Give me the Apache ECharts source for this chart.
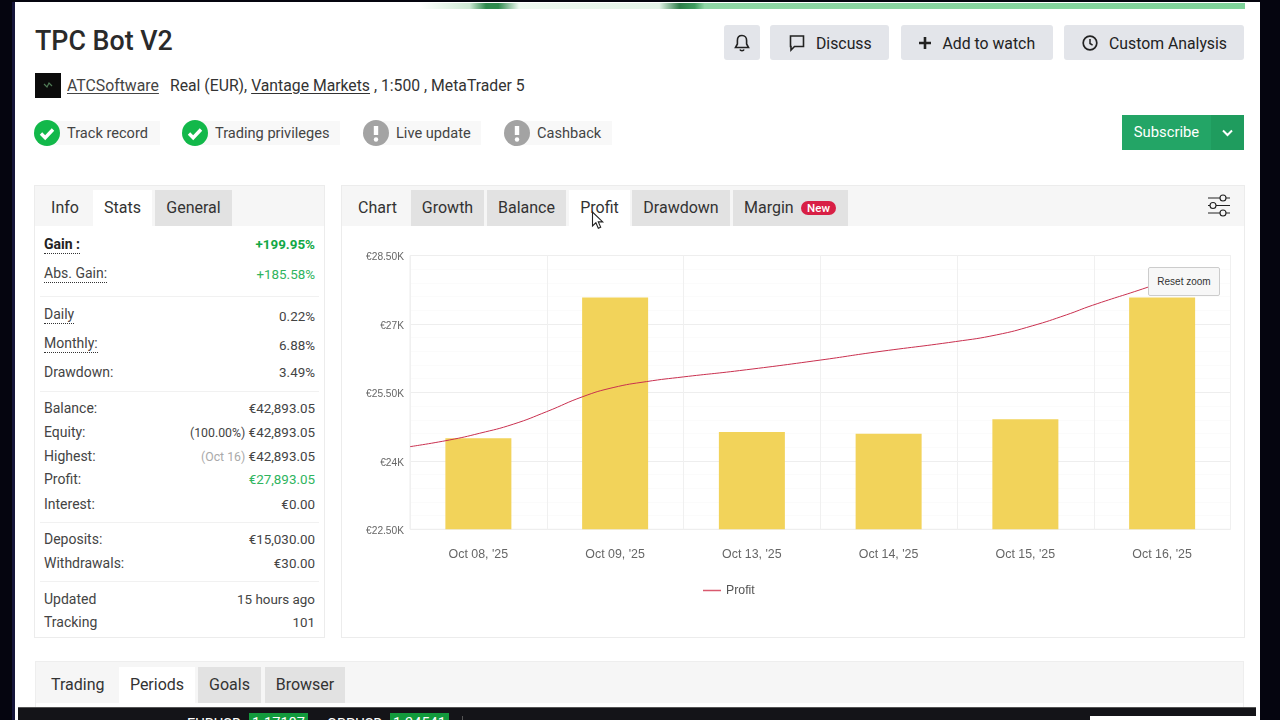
<!DOCTYPE html>
<html>
<head>
<meta charset="utf-8">
<title>TPC Bot V2</title>
<script src="https://cdn.jsdelivr.net/npm/echarts@6/dist/echarts.min.js"></script>
<style>
html, body { margin: 0; padding: 0; }
body { width: 1280px; height: 720px; overflow: hidden; position: relative; background: #05050f; font-family: Roboto, sans-serif; color: #333; }
.abs { position: absolute; white-space: nowrap; }
#page { position: absolute; left: 15px; top: 2px; width: 1245px; height: 718px; background: #fff; }
.btn { position: absolute; top: 25px; height: 35px; line-height: 37px; background: #e3e5ea; border-radius: 3px; font-size: 15.8px; color: #222; }
.chip { position: absolute; top: 121px; height: 24px; line-height: 25px; background: #f8f8f8; font-size: 14.6px; color: #444; }
.dot { position: absolute; top: 120px; width: 26px; height: 26px; border-radius: 50%; color: #fff; text-align: center; }
.panel { position: absolute; background: #fff; border: 1px solid #ececec; box-sizing: border-box; }
.strip { position: absolute; background: #f6f6f6; }
.tab { position: absolute; height: 36px; line-height: 36px; font-size: 16px; text-align: center; color: #333; }
.grey { background: #e2e2e2; }
.white { background: #fff; }
.lbl, .val { position: absolute; line-height: 18px; color: #444; white-space: nowrap; }
.lbl { left: 44px; font-size: 14px; }
.val { right: 965px; font-size: 13.4px; }
.dotted { border-bottom: 1px dotted #333; }
.sep { position: absolute; left: 40px; width: 279px; height: 1px; background: #f1f1f1; }
u { text-underline-offset: 2px; }
#chart { position: absolute; left: 342px; top: 228px; width: 902px; height: 409px; }
#resetzoom { position: absolute; left: 1148px; top: 267px; width: 72px; height: 29px; box-sizing: border-box; text-align: center; background: #f7f7f7; border: 1px solid #ccc; border-radius: 2px; font: 10px/28px "Liberation Sans", sans-serif; color: #333; }
</style>
</head>
<body>
<div id="page"></div>
<div class="abs" style="left:12px;top:2px;width:3px;height:718px;background:#15153a"></div>
<div class="abs" style="left:420px;top:3px;width:825px;height:6px;background:linear-gradient(90deg,#fff 0%,#cfe9d5 6%,#2f8a4e 8%,#2f8a4e 9.5%,#eef8f0 12%,#e4f3e8 29%,#2e7d4a 31.5%,#3f9c5f 33.3%,#8fd6a5 34.5%,#7fd39a 100%)"></div>

<div class="abs" style="left:35px;top:25px;font-size:26.8px;line-height:32px;font-weight:500;color:#2a2a2a">TPC Bot V2</div>
<div class="abs" style="left:35px;top:73px;width:26px;height:25px;background:#0b0b0b"><svg width="26" height="25"><path d="M9 11l3 3 2-4 3 3" fill="none" stroke="#4f7a55" stroke-width="1.2"/></svg></div>
<div class="abs" style="left:67px;top:76px;font-size:15.8px;line-height:19px;color:#444"><u>ATCSoftware</u></div>
<div class="abs" style="left:170px;top:76px;font-size:15.75px;line-height:19px;color:#333">Real (EUR), <u>Vantage Markets</u> , 1:500 , MetaTrader 5</div>

<div class="chip" style="left:48px;width:112px"><span style="position:absolute;left:19px">Track record</span></div>
<div class="chip" style="left:195px;width:145px"><span style="position:absolute;left:20px">Trading privileges</span></div>
<div class="chip" style="left:376px;width:105px"><span style="position:absolute;left:20px">Live update</span></div>
<div class="chip" style="left:517px;width:95px"><span style="position:absolute;left:20px">Cashback</span></div>
<div class="dot" style="left:34px;background:#12b84a"><svg width="26" height="26"><path d="M7 13.5l4.2 4.2L19 9.5" fill="none" stroke="#fff" stroke-width="3.4"/></svg></div>
<div class="dot" style="left:182px;background:#12b84a"><svg width="26" height="26"><path d="M7 13.5l4.2 4.2L19 9.5" fill="none" stroke="#fff" stroke-width="3.4"/></svg></div>
<div class="dot" style="left:363px;background:#a3a3a3"><svg width="26" height="26"><path d="M13 6v9" stroke="#fff" stroke-width="4.4"/><circle cx="13" cy="19.5" r="2.2" fill="#fff"/></svg></div>
<div class="dot" style="left:504px;background:#a3a3a3"><svg width="26" height="26"><path d="M13 6v9" stroke="#fff" stroke-width="4.4"/><circle cx="13" cy="19.5" r="2.2" fill="#fff"/></svg></div>

<div class="btn" style="left:724px;width:36px"><svg style="position:absolute;left:9px;top:8px" width="18" height="20"><path d="M9 2.5c-3 0-4.6 2.2-4.6 5v3.5L2.5 14.5h13L13.6 11V7.5c0-2.8-1.6-5-4.6-5zM7 16.5c.4 1.6 3.6 1.6 4 0" fill="none" stroke="#222" stroke-width="1.6"/></svg></div>
<div class="btn" style="left:770px;width:119px"><svg style="position:absolute;left:18px;top:9px" width="18" height="18"><path d="M2.5 2h13v10.5H6.5L3 16V12.5H2.5z" fill="none" stroke="#222" stroke-width="1.6"/></svg><span style="position:absolute;left:46px">Discuss</span></div>
<div class="btn" style="left:901px;width:152px"><svg style="position:absolute;left:17px;top:11px" width="14" height="14"><path d="M7 1v12M1 7h12" stroke="#222" stroke-width="2.6"/></svg><span style="position:absolute;left:41.5px">Add to watch</span></div>
<div class="btn" style="left:1064px;width:180px"><svg style="position:absolute;left:17px;top:9px" width="18" height="18"><circle cx="9" cy="9" r="6.8" fill="none" stroke="#222" stroke-width="1.7"/><path d="M9 5v4.5l2.6 1.6" fill="none" stroke="#222" stroke-width="1.5"/></svg><span style="position:absolute;left:45px">Custom Analysis</span></div>

<div class="abs" style="left:1122px;top:115px;width:89px;height:35px;line-height:34px;background:#23a566;color:#fff;font-size:14.8px;text-align:center">Subscribe</div>
<div class="abs" style="left:1211px;top:115px;width:33px;height:35px;background:#1f9c5e"><svg style="position:absolute;left:10px;top:13px" width="13" height="10"><path d="M2 2.5l4.5 4.5L11 2.5" fill="none" stroke="#fff" stroke-width="2"/></svg></div>

<!-- left panel -->
<div class="panel" style="left:34px;top:185px;width:291px;height:453px"></div>
<div class="strip" style="left:35px;top:186px;width:289px;height:40px"></div>
<div class="tab" style="left:51px;top:190px;width:28px">Info</div>
<div class="tab white" style="left:93px;top:190px;width:59px">Stats</div>
<div class="tab grey" style="left:155px;top:190px;width:77px">General</div>
<div id="stats"></div>

<!-- right panel -->
<div class="panel" style="left:341px;top:185px;width:904px;height:453px"></div>
<div class="strip" style="left:342px;top:186px;width:902px;height:40px"></div>
<div class="tab" style="left:358px;top:190px;width:38px">Chart</div>
<div class="tab grey" style="left:411px;top:190px;width:73px">Growth</div>
<div class="tab grey" style="left:487px;top:190px;width:79px">Balance</div>
<div class="tab white" style="left:569px;top:190px;width:61px">Profit</div>
<div class="tab grey" style="left:632px;top:190px;width:98px">Drawdown</div>
<div class="tab grey" style="left:733px;top:190px;width:115px;text-align:left"><span style="position:absolute;left:11px">Margin</span><span style="position:absolute;left:68px;top:11px;width:35px;height:14px;border-radius:7px;background:#d81f45;color:#fff;font-size:11.5px;line-height:14px;font-weight:500;text-align:center">New</span></div>
<svg class="abs" style="left:1207px;top:192.5px" width="24" height="26"><g fill="none" stroke="#222" stroke-width="1.1"><path d="M1 5h22M1 12.5h22M1 20h22"/><circle cx="16" cy="5" r="3" fill="#f6f6f6"/><circle cx="6" cy="12.5" r="3" fill="#f6f6f6"/><circle cx="16" cy="20" r="3" fill="#f6f6f6"/></g></svg>

<div id="chart"></div>
<div id="resetzoom">Reset zoom</div>
<svg class="abs" style="left:591px;top:211px" width="14" height="20"><path d="M1.5 1v14l3.4-3.2 2.4 5.4 2.4-1-2.4-5.3h4.4z" fill="#fff" stroke="#222" stroke-width="1.1"/></svg>

<!-- bottom panel -->
<div class="strip" style="left:35px;top:661px;width:1209px;height:42px"></div>
<div class="abs" style="left:35px;top:661px;width:1209px;height:46px;border:1px solid #eee;border-bottom:none;box-sizing:border-box"></div>
<div class="tab" style="left:51px;top:667px;width:53px">Trading</div>
<div class="tab white" style="left:119px;top:667px;width:76px">Periods</div>
<div class="tab grey" style="left:198px;top:667px;width:63px">Goals</div>
<div class="tab grey" style="left:265px;top:667px;width:80px">Browser</div>

<div class="abs" style="left:18px;top:707px;width:1238px;height:13px;background:#141418;border-top:1px solid #555;box-sizing:border-box;overflow:hidden;color:#fff;font-size:14.6px;line-height:18px">
  <span style="position:absolute;left:169px;top:7px">EURUSD</span>
  <span style="position:absolute;left:231px;top:5px;width:59px;height:15px;background:#129a3c;text-align:center;line-height:21px">1.17187</span>
  <span style="position:absolute;left:309px;top:7px">GBPUSD</span>
  <span style="position:absolute;left:372px;top:5px;width:59px;height:15px;background:#129a3c;text-align:center;line-height:21px">1.34541</span>
  <span style="position:absolute;left:444px;top:8px;width:1px;height:8px;background:#555"></span>
</div>
<div class="abs" style="left:1090px;top:716px;width:166px;height:4px;background:#fff"></div>

<script>
var categories = ["Oct 08, '25", "Oct 09, '25", "Oct 13, '25", "Oct 14, '25", "Oct 15, '25", "Oct 16, '25"];
var barValues = [24495, 27579, 24634, 24596, 24912, 27579];

// line is not tied to the bar centres, its x is in bar index units
var lineDays = [-0.5, -0.21, 0.01, 0.255, 0.5, 0.765, 0.985, 1.23, 1.5, 1.91, 2.5, 2.9, 3.49, 3.79, 4.05, 4.3, 4.49, 4.89, 5.01];
var lineValues = [24311, 24458, 24605, 24803, 25079, 25408, 25605, 25737, 25840, 25978, 26208, 26382, 26614, 26761, 26958, 27199, 27408, 27800, 27934];

var yTicks = [22500, 24000, 25500, 27000, 28500];
var yTickLabels = ["€22.50K", "€24K", "€25.50K", "€27K", "€28.50K"];

var statRows = [
    [235, "Gain :", "+199.95%", "b"],
    [264, "Abs. Gain:", "+185.58%", "g"],
    [305, "Daily", "0.22%", "d"],
    [334, "Monthly:", "6.88%", "d"],
    [363, "Drawdown:", "3.49%", ""],
    [399, "Balance:", "€42,893.05", ""],
    [423, "Equity:", "<span style='font-size:12.3px'>(100.00%)</span> €42,893.05", ""],
    [447, "Highest:", "<span style='font-size:12.3px;color:#aaa'>(Oct 16)</span> €42,893.05", ""],
    [470, "Profit:", "€27,893.05", "p"],
    [495, "Interest:", "€0.00", ""],
    [530, "Deposits:", "€15,030.00", ""],
    [554, "Withdrawals:", "€30.00", ""],
    [590, "Updated", "15 hours ago", ""],
    [613, "Tracking", "101", ""]
];
var statSeps = [296, 391, 522, 581];

var html = "";
statRows.forEach(function(r) {
    var lblStyle = "";
    var lblClass = "lbl";
    var valStyle = "";
    if (r[3] == "b") { lblStyle = "font-weight:700;color:#222;"; lblClass += " dotted"; valStyle = "color:#12a846;font-weight:700;"; }
    if (r[3] == "g") { lblClass += " dotted"; valStyle = "color:#2fb45e;"; }
    if (r[3] == "d") { lblClass += " dotted"; }
    if (r[3] == "p") { valStyle = "color:#2fb45e;"; }
    html += "<div class='" + lblClass + "' style='top:" + r[0] + "px;" + lblStyle + "'>" + r[1] + "</div>";
    var valTop = r[0] + 1;
    if (r[3] == "g") valTop = r[0] + 2;
    if (r[3] == "d") valTop = r[0] + 3;
    html += "<div class='val' style='top:" + valTop + "px;" + valStyle + "'>" + r[2] + "</div>";
});
statSeps.forEach(function(y) {
    html += "<div class='sep' style='top:" + y + "px'></div>";
});
document.getElementById("stats").innerHTML = html;

var myChart = echarts.init(document.getElementById("chart"));

var linePoints = [];
lineDays.forEach(function(d, i) {
    linePoints.push([d, lineValues[i]]);
});

var option = {
    animation: false,
    textStyle: { fontFamily: "Liberation Sans" },
    legend: {
        left: 356,
        top: 351.5,
        icon: "rect",
        itemWidth: 18,
        itemHeight: 1.5,
        data: ["Profit"],
        textStyle: { fontSize: 12.3, color: "#555" }
    },
    grid: { left: 68, right: 13.5, top: 27.5, bottom: 107.7, show: true, borderColor: "#ececec", borderWidth: 1 },
    xAxis: [{
        type: "category",
        data: categories,
        axisTick: { show: false },
        axisLine: { show: false },
        axisLabel: { fontSize: 12.4, color: "#666", margin: 19 },
        splitLine: { show: true, lineStyle: { color: "#f0f0f0", width: 1 } }
    }, {
        type: "value",
        min: -0.5,
        max: 5.5,
        show: false
    }],
    yAxis: {
        type: "value",
        min: yTicks[0],
        max: yTicks[yTicks.length - 1],
        interval: yTicks[1] - yTicks[0],
        axisLine: { show: false },
        axisTick: { show: false },
        axisLabel: {
            fontSize: 10.2,
            color: "#666",
            margin: 6,
            verticalAlign: "top",
            lineHeight: 4,
            formatter: function(v) {
                return yTickLabels[yTicks.indexOf(v)];
            }
        },
        splitLine: { lineStyle: { color: "#eeeeee", width: 1 } },
        minorSplitLine: { show: true, lineStyle: { color: "#fbfbfb", width: 1 } }
    },
    series: [{
        name: "Profit bars",
        type: "bar",
        xAxisIndex: 0,
        data: barValues,
        barWidth: 66,
        itemStyle: { color: "#f2d35a" }
    }, {
        name: "Profit",
        type: "line",
        xAxisIndex: 1,
        data: linePoints,
        smooth: 0.5,
        showSymbol: false,
        symbol: "none",
        itemStyle: { color: "#d9596e" },
        lineStyle: { color: "#c9304f", width: 1 },
        z: 5
    }]
};
myChart.setOption(option);
</script>
</body>
</html>
